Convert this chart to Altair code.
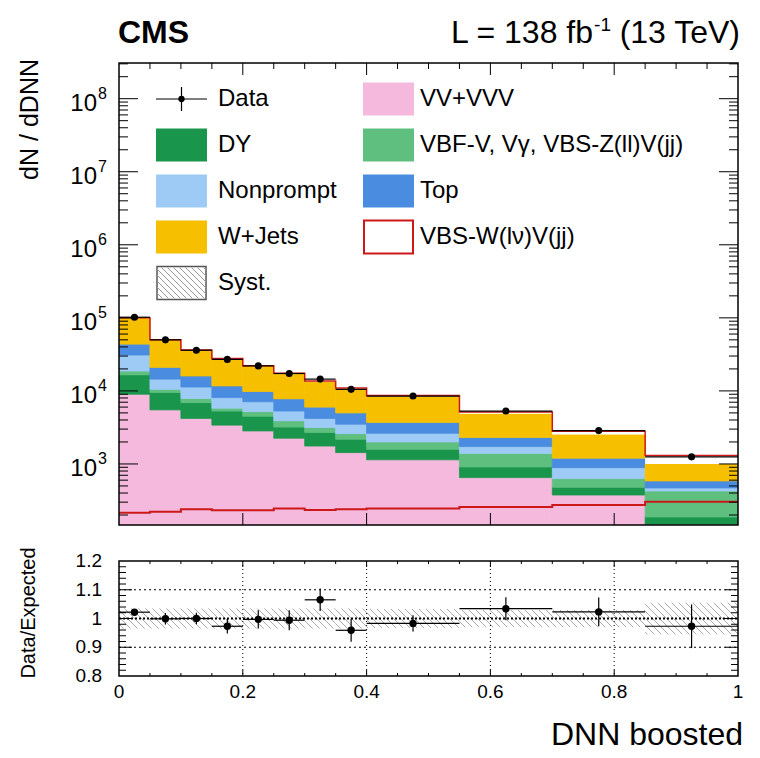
import math
import altair as alt
import pandas as pd

# ---------------- data ----------------
edges = [0.0, 0.05, 0.1, 0.15, 0.2, 0.25, 0.3, 0.35, 0.4, 0.55, 0.7, 0.85, 1.0]
vv = [9000, 5500, 4200, 3400, 2830, 2250, 1760, 1430, 1140, 650, 376, 150]
dy = [7600, 4000, 2700, 1900, 1670, 950, 940, 750, 450, 260, 104, 38]
vbf = [2100, 1000, 1000, 500, 700, 700, 450, 420, 410, 480, 150, 238]
nonprompt = [12300, 4000, 3400, 2300, 1900, 1400, 1050, 900, 630, 340, 260, 44]
top = [12700, 6500, 4700, 3600, 2700, 2500, 1800, 1500, 1070, 570, 310, 116]
wjets = [56300, 28800, 20000, 15800, 12000, 9350, 7400, 5710, 4705, 2567, 1322, 414]
signal = [215, 222, 240, 232, 232, 245, 235, 240, 245, 258, 274, 303]
data = [1.02e5, 5.0e4, 3.6e4, 2.7e4, 2.2e4, 1.73e4, 1.45e4, 1.05e4, 8.5e3, 5.3e3, 2.86e3, 1.25e3]
ratio = [1.022, 0.999, 1.0, 0.973, 0.997, 0.994, 1.065, 0.959, 0.983, 1.034, 1.023, 0.973]
ratio_err = [0.008, 0.02, 0.02, 0.025, 0.032, 0.035, 0.039, 0.04, 0.028, 0.04, 0.05, 0.076]
syst = [0.035, 0.035, 0.035, 0.035, 0.035, 0.035, 0.035, 0.035, 0.033, 0.03, 0.03, 0.055]

procs = ["VV+VVV", "DY", "VBF-V, Vγ, VBS-Z(ll)V(jj)", "Nonprompt", "Top", "W+Jets"]
colors = ["#f4b9dc", "#19964c", "#5ebf7f", "#9ecbf6", "#4a8ce0", "#f6c000"]
RED = "#cc1818"

xlabel_vals = [0, 0.2, 0.4, 0.6, 0.8, 1.0]
xlabel_txt = ["0", "0.2", "0.4", "0.6", "0.8", "1"]
rlabel_vals = [0.8, 0.9, 1.0, 1.1, 1.2]
rlabel_txt = ["0.8", "0.9", "1", "1.1", "1.2"]
ylog_exps = [3, 4, 5, 6, 7, 8]

# ---------------- layout ----------------
W, H1, H2 = 619, 462, 115
FONT = "Liberation Sans"
YMIN, YMAX = 146, 3.08e8

xs = alt.Scale(domain=[0, 1], nice=False, zero=False)
ys = alt.Scale(type="log", domain=[YMIN, YMAX], nice=False)
rs = alt.Scale(domain=[0.8, 1.2], nice=False, zero=False)

one = pd.DataFrame({"k": [0]})
nb = len(data)
x0 = edges[:-1]
x1 = edges[1:]
xc = [(a + b) / 2 for a, b in zip(x0, x1)]


def XQ(f):
    return alt.X(f, type="quantitative", scale=xs, axis=None)


def YQ(f):
    return alt.Y(f, type="quantitative", scale=ys, axis=None)


def RQ(f):
    return alt.Y(f, type="quantitative", scale=rs, axis=None)


# ---------- stacked histogram ----------
rows = []
bkg = []
for i in range(nb):
    base = 0.0
    for p, arr in zip(procs, [vv, dy, vbf, nonprompt, top, wjets]):
        lo = base if base > 0 else 1.0
        rows.append({"x0": x0[i], "x1": x1[i], "lo": lo, "hi": base + arr[i], "proc": p})
        base += arr[i]
    bkg.append(base)
stack_df = pd.DataFrame(rows)
total = [b + s for b, s in zip(bkg, signal)]

proc_scale = alt.Scale(domain=procs, range=colors)
stack = alt.Chart(stack_df).mark_rect(clip=True, strokeWidth=0.8).encode(
    x=XQ("x0"), x2="x1:Q", y=YQ("lo"), y2="hi:Q",
    color=alt.Color("proc:N", scale=proc_scale, legend=None),
    stroke=alt.Stroke("proc:N", scale=proc_scale, legend=None),
)

sig_df = pd.DataFrame({"x0": x0, "x1": x1, "lo": bkg, "hi": total})
sig_rect = alt.Chart(sig_df).mark_rect(color="white", clip=True).encode(
    x=XQ("x0"), x2="x1:Q", y=YQ("lo"), y2="hi:Q")

top_line_df = pd.DataFrame({"x": edges, "y": total + [total[-1]]})
top_line = alt.Chart(top_line_df).mark_line(
    interpolate="step-after", color=RED, strokeWidth=1.5, clip=True
).encode(x=XQ("x"), y=YQ("y"))

sig_line_df = pd.DataFrame({"x": edges, "y": signal + [signal[-1]]})
sig_line = alt.Chart(sig_line_df).mark_line(
    interpolate="step-after", color=RED, strokeWidth=2, clip=True
).encode(x=XQ("x"), y=YQ("y"))

dat_df = pd.DataFrame({
    "xc": xc, "x0": x0, "x1": x1, "d": data,
    "lo": [d * (1 - e) for d, e in zip(data, ratio_err)],
    "hi": [d * (1 + e) for d, e in zip(data, ratio_err)],
})
dat_h = alt.Chart(dat_df).mark_rule(color="black", strokeWidth=1.2).encode(
    x=XQ("x0"), x2="x1:Q", y=YQ("d"))
dat_v = alt.Chart(dat_df).mark_rule(color="black", strokeWidth=1.2).encode(
    x=XQ("xc"), y=YQ("lo"), y2="hi:Q")
dat_p = alt.Chart(dat_df).mark_circle(color="black", opacity=1, size=50).encode(
    x=XQ("xc"), y=YQ("d"))


# ---------- ticks ----------
def yticks(vals, scale, length, width, height):
    df = pd.DataFrame({"v": vals})
    base = alt.Chart(df).mark_rule(color="black", strokeWidth=1)
    left = base.encode(y=alt.Y("v:Q", scale=scale, axis=None), x=alt.value(0), x2=alt.value(length))
    right = base.encode(y=alt.Y("v:Q", scale=scale, axis=None), x=alt.value(width - length), x2=alt.value(width))
    return [left, right]


def xticks(vals, length, height, top=True, bottom=True):
    df = pd.DataFrame({"v": vals})
    base = alt.Chart(df).mark_rule(color="black", strokeWidth=1)
    out = []
    if top:
        out.append(base.encode(x=XQ("v"), y=alt.value(0), y2=alt.value(length)))
    if bottom:
        out.append(base.encode(x=XQ("v"), y=alt.value(height - length), y2=alt.value(height)))
    return out


maj_y = [10.0 ** e for e in ylog_exps]
min_y = [m * 10.0 ** e for e in range(2, 9) for m in range(2, 10) if YMIN <= m * 10.0 ** e <= YMAX]
maj_x = [0.2, 0.4, 0.6, 0.8]
min_x = [round(0.05 * k, 2) for k in range(1, 20) if k % 4 != 0]

frame1 = alt.Chart(one).mark_rect(fillOpacity=0, stroke="black", strokeWidth=1.5).encode(
    x=alt.value(0), x2=alt.value(W), y=alt.value(0), y2=alt.value(H1))
frame2 = alt.Chart(one).mark_rect(fillOpacity=0, stroke="black", strokeWidth=1.5).encode(
    x=alt.value(0), x2=alt.value(W), y=alt.value(0), y2=alt.value(H2))

# log labels 10^n
lab_df = pd.DataFrame({"v": maj_y, "e": [str(e) for e in ylog_exps]})
lab10 = alt.Chart(lab_df).mark_text(text="10", align="right", baseline="middle", fontSize=24,
                                    font=FONT, dy=5).encode(y=YQ("v"), x=alt.value(-22))
labexp = alt.Chart(lab_df).mark_text(align="left", baseline="middle", fontSize=16,
                                     font=FONT, dy=-5).encode(y=YQ("v"), x=alt.value(-21), text="e:N")


def txt(s, x, y, size, align="left", baseline="alphabetic", angle=0, weight="normal"):
    return alt.Chart(one).mark_text(text=s, align=align, baseline=baseline, fontSize=size,
                                    font=FONT, angle=angle, fontWeight=weight, color="black").encode(
        x=alt.value(x), y=alt.value(y))


texts_main = [
    txt("CMS", -1, -20, 32, weight="bold"),
    txt("(13 TeV)", 621, -20, 32, align="right"),
    txt("-1", 492, -32, 19, align="right"),
    txt("L = 138 fb", 474, -20, 32, align="right"),
    txt("dN / dDNN", -89, -4, 25, align="right", baseline="middle", angle=270),
]

# ---------- legend ----------
LBX0, LBX1 = 37, 88
RBX0, RBX1 = 244, 295
row_y = [36 + 46 * r for r in range(5)]
BH = 16.5
legend = []


def box(xa, xb, yc, fill, stroke=None, sw=0):
    m = alt.Chart(one).mark_rect(fill=fill, stroke=stroke if stroke else fill, strokeWidth=sw)
    return m.encode(x=alt.value(xa), x2=alt.value(xb), y=alt.value(yc - BH), y2=alt.value(yc + BH))


# Data entry
yc = row_y[0]
legend.append(alt.Chart(one).mark_rule(color="black", strokeWidth=1.2).encode(
    x=alt.value(LBX0), x2=alt.value(LBX1), y=alt.value(yc)))
legend.append(alt.Chart(one).mark_rule(color="black", strokeWidth=1.2).encode(
    x=alt.value((LBX0 + LBX1) / 2), y=alt.value(yc - 12), y2=alt.value(yc + 12)))
legend.append(alt.Chart(one).mark_circle(color="black", opacity=1, size=40).encode(
    x=alt.value((LBX0 + LBX1) / 2), y=alt.value(yc)))
legend.append(txt("Data", 99, yc, 24, baseline="middle"))

left_entries = [("DY", colors[1]), ("Nonprompt", colors[3]), ("W+Jets", colors[5])]
for r, (name, col) in enumerate(left_entries, start=1):
    legend.append(box(LBX0, LBX1, row_y[r], col))
    legend.append(txt(name, 99, row_y[r], 24, baseline="middle"))

right_entries = [("VV+VVV", colors[0]), ("VBF-V, Vγ, VBS-Z(ll)V(jj)", colors[2]), ("Top", colors[4])]
for r, (name, col) in enumerate(right_entries):
    legend.append(box(RBX0, RBX1, row_y[r], col))
    legend.append(txt(name, 301, row_y[r], 24, baseline="middle"))
legend.append(box(RBX0 + 1, RBX1 - 1, row_y[3], "white", RED, 2))
legend.append(txt("VBS-W(lν)V(jj)", 301, row_y[3], 24, baseline="middle"))

# Syst entry (hatched box)
yc = row_y[4]
legend.append(box(LBX0 + 1, LBX1 - 1, yc, "white", "#555555", 1.5))
HD = 6.0
Yt, Yb = yc - BH + 1, yc + BH - 1
Xa, Xb = LBX0 + 1, LBX1 - 1
k0 = math.ceil((Yt - Xb) / HD)
k1 = math.floor((Yb - Xa) / HD)
for k in range(k0, k1 + 1):
    c = k * HD
    xa = max(Xa, Yt - c)
    xb = min(Xb, Yb - c)
    if xb - xa > 0.5:
        legend.append(alt.Chart(one).mark_rule(color="#999999", strokeWidth=1).encode(
            x=alt.value(xa), x2=alt.value(xb), y=alt.value(xa + c), y2=alt.value(xb + c)))
legend.append(txt("Syst.", 99, yc, 24, baseline="middle"))

main_layers = ([stack, sig_rect, top_line, sig_line, dat_h, dat_v, dat_p]
               + yticks(maj_y, ys, 19, W, H1) + yticks(min_y, ys, 9, W, H1)
               + xticks(maj_x, 12, H1) + xticks(min_x, 6, H1, bottom=False)
               + [frame1, lab10, labexp] + texts_main + legend)
main = alt.layer(*main_layers).properties(width=W, height=H1)

# ---------------- ratio panel ----------------
ypx = H2 / 0.4
hatch = []
HDR = 7.0
for i in range(nb):
    Xa, Xb = x0[i] * W, x1[i] * W
    Yt = (1.2 - (1 + syst[i])) * ypx
    Yb = (1.2 - (1 - syst[i])) * ypx
    k0 = math.ceil((Yt - Xb) / HDR)
    k1 = math.floor((Yb - Xa) / HDR)
    for k in range(k0, k1 + 1):
        c = k * HDR
        xa = max(Xa, Yt - c)
        xb = min(Xb, Yb - c)
        if xb - xa > 0.3:
            hatch.append({"hx": xa / W, "hx2": xb / W,
                          "hy": 1.2 - (xa + c) / ypx, "hy2": 1.2 - (xb + c) / ypx})
hatch_df = pd.DataFrame(hatch)
hatch_l = alt.Chart(hatch_df).mark_rule(color="#aaaaaa", strokeWidth=1).encode(
    x=XQ("hx"), x2="hx2:Q", y=RQ("hy"), y2="hy2:Q")

vgrid = alt.Chart(pd.DataFrame({"v": maj_x})).mark_rule(color="black", strokeWidth=1, strokeDash=[1, 3]).encode(
    x=XQ("v"), y=alt.value(0), y2=alt.value(H2))
hgrid = alt.Chart(pd.DataFrame({"v": [0.9, 1.1]})).mark_rule(color="black", strokeWidth=1, strokeDash=[2, 3]).encode(
    y=RQ("v"), x=alt.value(0), x2=alt.value(W))
one_line = alt.Chart(pd.DataFrame({"v": [1.0]})).mark_rule(color="black", strokeWidth=2, strokeDash=[2, 2]).encode(
    y=RQ("v"), x=alt.value(0), x2=alt.value(W))

r_df = pd.DataFrame({
    "xc": xc, "x0": x0, "x1": x1, "r": ratio,
    "lo": [r - e for r, e in zip(ratio, ratio_err)],
    "hi": [r + e for r, e in zip(ratio, ratio_err)],
})
r_h = alt.Chart(r_df).mark_rule(color="black", strokeWidth=1.2).encode(x=XQ("x0"), x2="x1:Q", y=RQ("r"))
r_v = alt.Chart(r_df).mark_rule(color="black", strokeWidth=1.2).encode(x=XQ("xc"), y=RQ("lo"), y2="hi:Q")
r_p = alt.Chart(r_df).mark_circle(color="black", opacity=1, size=55).encode(x=XQ("xc"), y=RQ("r"))

r_maj = [0.9, 1.0, 1.1]
r_min = [round(0.8 + 0.02 * k, 2) for k in range(1, 20) if k % 5 != 0]

xl_df = pd.DataFrame({"v": xlabel_vals, "t": xlabel_txt})
xlab = alt.Chart(xl_df).mark_text(align="center", baseline="middle", fontSize=19, font=FONT).encode(
    x=XQ("v"), y=alt.value(131), text="t:N")
rl_df = pd.DataFrame({"v": rlabel_vals, "t": rlabel_txt})
rlab = alt.Chart(rl_df).mark_text(align="right", baseline="middle", fontSize=19, font=FONT).encode(
    y=RQ("v"), x=alt.value(-17), text="t:N")

texts_ratio = [
    txt("Data/Expected", -90.5, 52, 20, align="center", baseline="middle", angle=270),
    txt("DNN boosted", 624, 184, 32, align="right"),
]

ratio_layers = ([hatch_l, vgrid, hgrid, one_line, r_h, r_v, r_p]
                + yticks(r_maj, rs, 13, W, H2) + yticks(r_min, rs, 7, W, H2)
                + xticks(maj_x, 6, H2) + xticks(min_x, 3, H2)
                + [frame2, xlab, rlab] + texts_ratio)
ratio_panel = alt.layer(*ratio_layers).properties(width=W, height=H2)

chart = alt.vconcat(main, ratio_panel, spacing=36, bounds="flush").properties(
    padding={"left": 10, "top": 8, "right": 0, "bottom": 0}
).configure_view(strokeWidth=0)

chart.save("out.html", embed_options={"renderer": "svg", "actions": False})
